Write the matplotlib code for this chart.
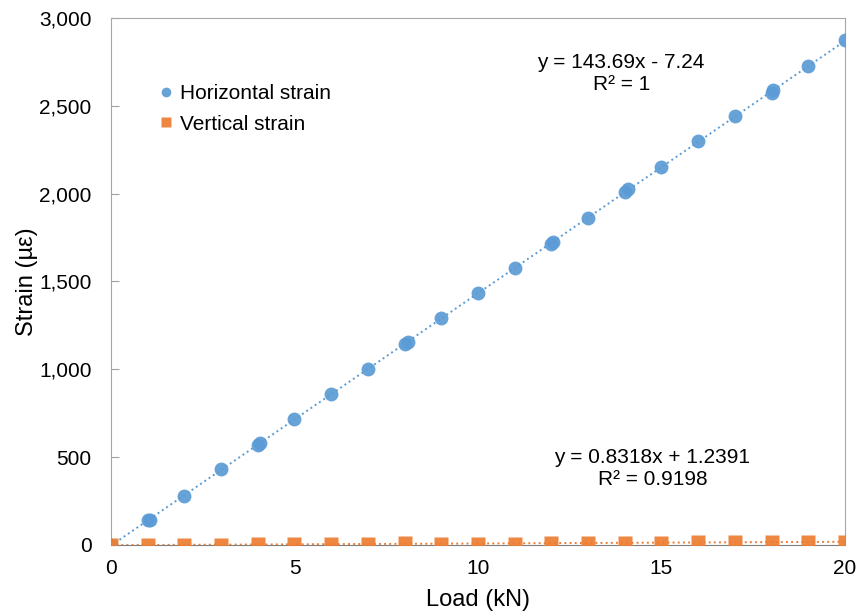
import numpy as np
import matplotlib.pyplot as plt

plt.rcParams['font.family'] = ['Liberation Sans', 'DejaVu Sans']

load_h = [0, 1, 1.05, 2, 3, 4, 4.05, 5, 6, 7, 8, 8.1, 9, 10, 11, 12, 12.05,
          13, 14, 14.1, 15, 16, 17, 18, 18.05, 19, 20]
strain_h = [0, 140, 145, 280, 431, 570, 578, 717, 860, 1002, 1142, 1158, 1292,
            1435, 1576, 1716, 1722, 1862, 2008, 2025, 2152, 2298, 2442, 2574,
            2590, 2727, 2873]

load_v = [0, 1, 2, 3, 4, 5, 6, 7, 8, 9, 10, 11, 12, 13, 14, 15, 16, 17, 18, 19, 20]
strain_v = [0, -2, 1, 2, 3, 4, 3, 8, 9, 6, 7, 8, 11, 12, 12, 13, 15, 16, 17, 16, 18]

blue = '#5B9BD5'
orange = '#ED7D31'

fig = plt.figure(figsize=(8.57, 6.16), dpi=100)
ax = fig.add_axes([0.1295, 0.1153, 0.8565, 0.8555])

# trendlines
xx = np.array([0, 20])
ph = np.polyfit(load_h, strain_h, 1)
pv = np.polyfit(load_v, strain_v, 1)
ax.plot(xx, np.polyval(ph, xx), ':', color=blue, lw=1.4, zorder=2)
ax.plot(xx, np.polyval(pv, xx), ':', color=orange, lw=1.4, zorder=2)

ax.plot(load_h, strain_h, 'o', color=blue, ms=10, alpha=0.92, mec='none',
        label='Horizontal strain', zorder=3)
ax.plot(load_v, strain_v, 's', color=orange, ms=9.5, alpha=0.92, mec='none',
        label='Vertical strain', zorder=4)

ax.text(13.9, 2685, 'y = 143.69x - 7.24\nR² = 1', ha='center', va='center',
        fontsize=15, linespacing=1.2)
ax.text(14.75, 438, 'y = 0.8318x + 1.2391\nR² = 0.9198', ha='center', va='center',
        fontsize=15, linespacing=1.2)

ax.set_xlim(0, 20)
ax.set_ylim(0, 3000)
ax.set_xticks([0, 5, 10, 15, 20])
ax.set_yticks(range(0, 3001, 500))
ax.yaxis.set_major_formatter(plt.FuncFormatter(lambda v, p: f'{int(v):,}'))
ax.tick_params(axis='y', direction='in', length=6, color='#a0a0a0', labelsize=15, pad=14)
ax.tick_params(axis='x', length=0, labelsize=15, pad=10)

for s in ['left', 'top', 'right']:
    ax.spines[s].set_color('#a6a6a6')
ax.spines['bottom'].set_color('#7f7f7f')

ax.set_xlabel('Load (kN)', fontsize=17, labelpad=8)
ax.set_ylabel('Strain (µε)', fontsize=17, labelpad=1)

ax.legend(loc='upper left', bbox_to_anchor=(0.033, 0.91), frameon=False,
          fontsize=15, handletextpad=0.05, handlelength=1.2, labelspacing=0.55,
          markerscale=0.7)

fig.savefig('out.png', dpi=100)
